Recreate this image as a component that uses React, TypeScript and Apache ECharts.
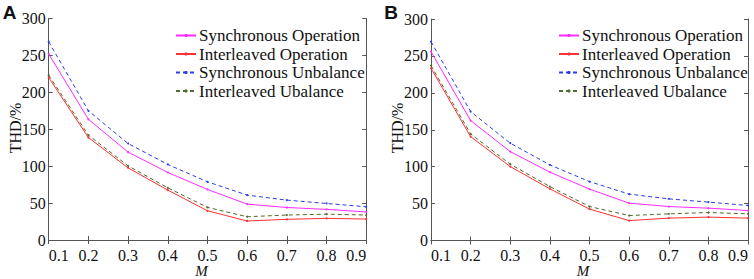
import React, { useEffect, useRef } from "react";
import * as echarts from "echarts";

const categories = ["0.1", "0.2", "0.3", "0.4", "0.5", "0.6", "0.7", "0.8", "0.9"];
const yTicks = { min: 0, max: 300, interval: 50 };

const seriesNames = [
  "Synchronous Operation",
  "Interleaved Operation",
  "Synchronous Unbalance",
  "Interleaved Ubalance",
];

// Panel A
const syncOpA = [252, 163.5, 119, 91.5, 68.5, 48.6, 44, 41.5, 38];
const interOpA = [220, 138.8, 97.7, 67.6, 39.6, 25.7, 28, 29.3, 28.4];
const syncUnA = [268.5, 175, 130.7, 102.3, 78.8, 60.8, 54, 49.5, 45];
const interUnA = [223, 142, 100.4, 70.7, 44.2, 31.5, 33.8, 35, 33.8];

// Panel B
const syncOpB = [255.8, 162.4, 120.4, 92.6, 69.6, 50.6, 46, 43.8, 40.6];
const interOpB = [233.3, 140.7, 100.1, 70, 42.5, 27, 30.3, 31.7, 30.3];
const syncUnB = [269.3, 174.6, 131.8, 102.4, 79.8, 62.8, 56.4, 52, 47.4];
const interUnB = [236.8, 144.4, 103.4, 73, 46, 33.8, 36.1, 37.9, 36.1];

const colors = ["#ff2bff", "#ff3030", "#2a3ee8", "#4f6b2a"];
const dashed = [false, false, true, true];

const SERIF = "Liberation Serif";
const AXIS_COLOR = "#555";

export default function App() {
  const ref = useRef<HTMLDivElement>(null);

  useEffect(() => {
    document.body.style.margin = "0";
    const chart = echarts.init(ref.current!, undefined, { renderer: "svg" });

    const grids = [
      { left: 48.7, top: 18.5, width: 317.5, height: 221.5 },
      { left: 431, top: 19, width: 317, height: 221.5 },
    ];

    const labelText = { color: "#111", fontFamily: SERIF, fontSize: 16, fontWeight: "normal", fontStyle: "normal" };

    const xAxes: any[] = [];
    const yAxes: any[] = [];
    grids.forEach((_, gi) => {
      const base = {
        type: "category",
        data: categories,
        boundaryGap: false,
        gridIndex: gi,
        axisLine: { show: true, lineStyle: { color: AXIS_COLOR, width: 1 } },
        axisTick: { show: true, inside: true, length: 4, alignWithLabel: true, lineStyle: { color: AXIS_COLOR } },
        splitLine: { show: false },
      };
      xAxes.push({
        ...base,
        position: "bottom",
        axisLabel: {
          show: true,
          interval: 0,
          ...labelText,
          lineHeight: 14,
          margin: 8,
          alignMinLabel: "left",
          alignMaxLabel: "right",
        },
      });
      xAxes.push({ ...base, position: "top", axisLabel: { show: false } });
      const ybase = {
        type: "value",
        gridIndex: gi,
        ...yTicks,
        axisLine: { show: true, lineStyle: { color: AXIS_COLOR, width: 1 } },
        axisTick: { show: true, inside: true, length: 4, lineStyle: { color: AXIS_COLOR } },
        splitLine: { show: false },
      };
      yAxes.push({
        ...ybase,
        position: "left",
        axisLabel: { show: true, ...labelText, margin: 3 },
      });
      yAxes.push({ ...ybase, position: "right", axisLabel: { show: false } });
    });

    const dataA = [syncOpA, interOpA, syncUnA, interUnA];
    const dataB = [syncOpB, interOpB, syncUnB, interUnB];
    const series: any[] = [];
    [dataA, dataB].forEach((set, gi) => {
      set.forEach((vals, i) => {
        series.push({
          type: "line",
          name: seriesNames[i],
          xAxisIndex: gi * 2,
          yAxisIndex: gi * 2,
          data: vals,
          symbol: "circle",
          symbolSize: 2,
          showSymbol: true,
          color: colors[i],
          lineStyle: {
            color: colors[i],
            width: 1,
            type: dashed[i] ? [4, 3] : "solid",
          },
          itemStyle: { color: colors[i] },
          emphasis: { disabled: true },
        });
      });
    });

    const legendBase = {
      orient: "vertical",
      itemWidth: 20,
      itemHeight: 4,
      itemGap: 1.5,
      data: seriesNames,
      textStyle: { ...labelText, fontSize: 17, lineHeight: 15, padding: [0, 0, 0, -2] },
      padding: 0,
      selectedMode: false,
    };

    const textEl = (text: string, x: number, y: number, font: any, rotation = 0) => ({
      type: "text",
      x,
      y,
      rotation,
      style: { text, ...font, fill: "#111", textAlign: "center", textVerticalAlign: "middle" },
    });

    const titleFont = { fontFamily: "Liberation Sans", fontSize: 19, fontWeight: "bold" };
    const yNameFont = { fontFamily: SERIF, fontSize: 16 };
    const xNameFont = { fontFamily: SERIF, fontSize: 15, fontStyle: "italic" };

    chart.setOption({
      animation: false,
      backgroundColor: "#fff",
      textStyle: { fontFamily: SERIF },
      grid: grids.map((g) => ({ ...g, containLabel: false, show: false })),
      xAxis: xAxes,
      yAxis: yAxes,
      series,
      legend: [
        { ...legendBase, left: 175, top: 27 },
        { ...legendBase, left: 558, top: 27 },
      ],
      graphic: [
        textEl("A", 9.5, 12, titleFont),
        textEl("B", 391, 12, titleFont),
        textEl("THD/%", 15.8, 128, yNameFont, Math.PI / 2),
        textEl("THD/%", 397.6, 128, yNameFont, Math.PI / 2),
        textEl("M", 201.5, 271, xNameFont),
        textEl("M", 583, 271, xNameFont),
      ],
    });

    return () => chart.dispose();
  }, []);

  return <div ref={ref} style={{ width: 754, height: 279 }} />;
}
